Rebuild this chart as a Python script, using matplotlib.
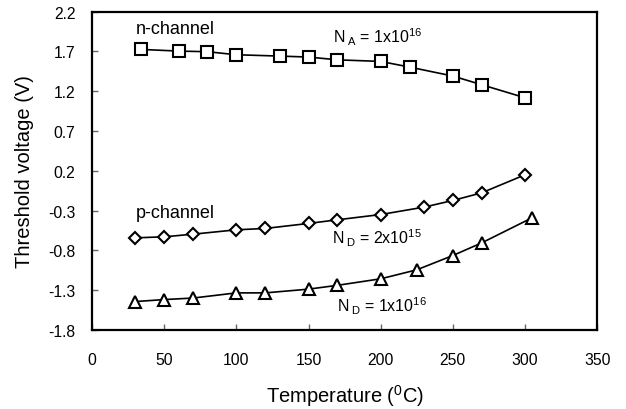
import matplotlib
matplotlib.use("Agg")

import matplotlib.pyplot as plt

plt.rcParams["font.family"] = ["Liberation Sans", "DejaVu Sans"]

# n-channel, N_A = 1e16 (squares)
n_temp = [34, 60, 80, 100, 130, 150, 170, 200, 220, 250, 270, 300]
n_vt = [1.726, 1.705, 1.697, 1.659, 1.642, 1.630, 1.595, 1.575, 1.504, 1.391, 1.282, 1.118]

# p-channel, N_D = 2e15 (diamonds)
p1_temp = [30, 50, 70, 100, 120, 150, 170, 200, 230, 250, 270, 300]
p1_vt = [-0.643, -0.630, -0.597, -0.542, -0.525, -0.462, -0.416, -0.350, -0.257, -0.173, -0.077, 0.150]

# p-channel, N_D = 1e16 (triangles)
p2_temp = [30, 50, 70, 100, 120, 150, 170, 200, 225, 250, 270, 305]
p2_vt = [-1.444, -1.419, -1.400, -1.335, -1.335, -1.288, -1.240, -1.158, -1.045, -0.865, -0.706, -0.390]

x_ticks = [0, 50, 100, 150, 200, 250, 300, 350]
y_ticks = [-1.8, -1.3, -0.8, -0.3, 0.2, 0.7, 1.2, 1.7, 2.2]

fig = plt.figure(figsize=(6.26, 4.10), dpi=100)
ax = fig.add_axes([0.147, 0.193, 0.807, 0.776])

style = dict(color="black", lw=1.2, mfc="white", mec="black", mew=1.5)
ax.plot(n_temp, n_vt, marker="s", ms=8, **style)
ax.plot(p1_temp, p1_vt, marker="D", ms=6.5, **style)
ax.plot(p2_temp, p2_vt, marker="^", ms=9, **style)

ax.set_xlim(0, 350)
ax.set_ylim(-1.8, 2.2)
ax.set_xticks(x_ticks)
ax.set_yticks(y_ticks)
ax.set_yticklabels([f"{v:.1f}" for v in y_ticks])

for s in ax.spines.values():
    s.set_linewidth(1.6)
ax.tick_params(direction="in", length=4, width=1, color="#666666",
               labelsize=11.3)
ax.tick_params(axis="x", pad=16)
ax.tick_params(axis="y", pad=12)

ax.set_xlabel("Temperature ($\\mathregular{^0}$C)", fontsize=14.5, labelpad=11)
ax.set_ylabel("Threshold voltage (V)", fontsize=14.5, labelpad=10)

ax.text(30.6, 1.928, "n-channel", fontsize=13)
ax.text(166.7, 1.815, "N$\\,_\\mathregular{A}$ = 1x10$^\\mathregular{16}$", fontsize=11.5)
ax.text(30.6, -0.386, "p-channel", fontsize=13)
ax.text(166, -0.713, "N$\\,_\\mathregular{D}$ = 2x10$^\\mathregular{15}$", fontsize=11.5)
ax.text(169.5, -1.561, "N$\\,_\\mathregular{D}$ = 1x10$^\\mathregular{16}$", fontsize=11.5)

fig.savefig("out.png", dpi=100)
